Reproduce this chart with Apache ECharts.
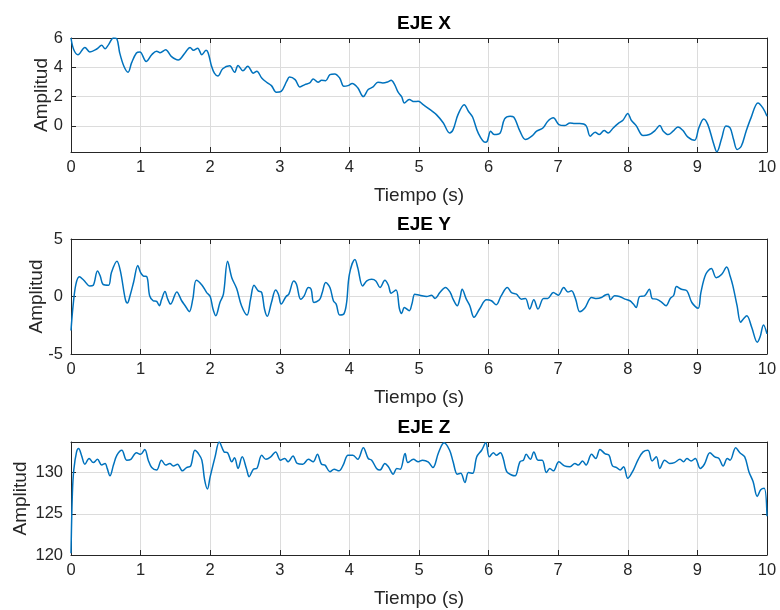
<!DOCTYPE html>
<html>
<head>
<meta charset="utf-8">
<script src="https://cdn.jsdelivr.net/npm/echarts@6/dist/echarts.min.js"></script>
<style>
html,body{margin:0;padding:0;background:#fff;}
#c{width:780px;height:610px;}
</style>
</head>
<body>
<div id="c"></div>
<script>
// ---- DATA ----
const titles = ['EJE X', 'EJE Y', 'EJE Z'];
const xTicks = [0,1,2,3,4,5,6,7,8,9,10];
const yTicksX = [0, 2, 4, 6];
const yTicksY = [-5, 0, 5];
const yTicksZ = [120, 125, 130];

const tX = [0,0.04,0.1,0.2,0.27,0.37,0.44,0.49,0.54,0.61,0.66,0.7,0.76,0.82,0.87,0.94,0.99,1.08,1.16,1.23,1.28,1.36,1.44,1.54,1.64,1.71,1.76,1.82,1.88,1.94,1.97,2.02,2.06,2.11,2.18,2.28,2.35,2.4,2.47,2.54,2.62,2.67,2.74,2.81,2.88,2.95,3.02,3.1,3.14,3.22,3.29,3.36,3.43,3.48,3.55,3.6,3.66,3.72,3.79,3.86,3.92,3.98,4.04,4.12,4.2,4.27,4.34,4.41,4.48,4.55,4.6,4.65,4.7,4.75,4.79,4.86,4.93,4.99,5.06,5.16,5.25,5.35,5.44,5.49,5.56,5.65,5.71,5.77,5.85,5.95,5.98,6.03,6.08,6.16,6.23,6.31,6.36,6.45,6.53,6.62,6.69,6.78,6.85,6.93,7.01,7.09,7.17,7.24,7.31,7.4,7.46,7.53,7.59,7.66,7.72,7.79,7.86,7.93,8.0,8.05,8.12,8.22,8.31,8.39,8.46,8.51,8.58,8.65,8.72,8.79,8.86,8.96,9.02,9.09,9.15,9.23,9.28,9.35,9.41,9.47,9.52,9.57,9.63,9.7,9.77,9.87,9.94,10];
const ampX = [6.0,5.2,4.86,5.36,5.05,5.25,5.5,5.27,5.55,6.0,5.93,4.98,4.07,3.66,4.3,4.98,5.05,4.4,4.86,5.1,5.0,5.2,4.75,4.5,5.0,5.36,5.16,5.3,4.86,5.16,5.0,4.07,3.6,3.4,3.9,4.1,3.66,4.13,3.77,4.07,3.6,3.73,3.27,2.98,2.75,2.3,2.36,3.05,3.34,3.16,2.66,2.82,2.93,3.2,2.98,3.11,3.09,3.5,3.55,3.27,2.7,2.75,2.9,2.6,2.0,2.48,2.66,2.98,2.93,3.0,3.11,2.82,2.3,2.0,1.57,1.8,1.66,1.68,1.45,1.11,0.77,0.2,-0.48,-0.25,0.77,1.45,1.0,0.61,-0.48,-1.11,-1.05,-0.36,-0.59,-0.52,0.48,0.66,0.61,-0.36,-0.93,-0.7,-0.36,-0.14,0.32,0.55,0.09,0.02,0.2,0.16,0.16,0.02,-0.7,-0.43,-0.59,-0.32,-0.48,-0.14,0.16,0.39,0.84,0.39,0.02,-0.66,-0.59,-0.32,0.02,-0.36,-0.59,-0.36,-0.07,-0.3,-0.75,-0.98,-0.14,0.48,0.09,-1.16,-1.77,-0.82,0.0,-0.14,-0.93,-1.61,-1.39,-0.36,0.55,1.57,1.23,0.66];

const tY = [0,0.03,0.07,0.12,0.18,0.27,0.32,0.38,0.42,0.46,0.54,0.58,0.66,0.71,0.78,0.81,0.85,0.9,0.96,1.0,1.04,1.09,1.13,1.18,1.23,1.27,1.3,1.35,1.39,1.43,1.52,1.59,1.64,1.7,1.75,1.8,1.88,1.95,2.0,2.04,2.08,2.14,2.19,2.25,2.31,2.38,2.45,2.53,2.58,2.63,2.69,2.74,2.78,2.82,2.88,2.94,2.98,3.02,3.09,3.13,3.2,3.24,3.3,3.35,3.41,3.45,3.49,3.57,3.61,3.66,3.72,3.77,3.81,3.86,3.92,3.96,4.0,4.08,4.12,4.19,4.25,4.32,4.38,4.44,4.51,4.56,4.6,4.67,4.72,4.75,4.79,4.86,4.9,4.94,5.01,5.11,5.18,5.23,5.3,5.38,5.45,5.49,5.55,5.59,5.62,5.68,5.73,5.79,5.87,5.97,6.04,6.11,6.18,6.27,6.33,6.4,6.47,6.53,6.59,6.65,6.71,6.79,6.85,6.93,7.0,7.08,7.14,7.19,7.25,7.31,7.38,7.48,7.55,7.62,7.67,7.72,7.75,7.81,7.88,7.96,8.03,8.08,8.12,8.17,8.24,8.31,8.35,8.41,8.48,8.55,8.61,8.66,8.7,8.77,8.85,8.92,9.01,9.05,9.12,9.2,9.27,9.35,9.42,9.47,9.51,9.57,9.62,9.66,9.71,9.78,9.86,9.9,9.95,10];
const ampY = [-2.96,-0.8,1.06,1.72,1.44,0.92,0.98,2.21,1.78,1.06,0.98,2.07,3.07,2.21,-0.23,-0.57,0.11,1.26,2.7,2.07,1.78,1.72,0.06,-0.37,-0.43,-0.8,-0.29,0.43,-0.23,-0.66,0.4,-0.37,-0.8,-1.32,-0.23,1.41,1.0,0.34,0.0,-1.09,-1.67,-0.52,0.2,3.07,1.64,0.69,-0.8,-1.61,-0.23,0.98,0.49,0.34,-1.09,-1.72,-0.52,0.57,0.2,-0.66,0.0,0.2,1.35,1.06,-0.23,0.06,0.78,0.63,-0.52,-0.29,0.34,1.21,0.78,-0.37,-0.66,-1.61,-1.52,-0.52,1.93,3.22,2.5,0.92,1.35,1.49,1.35,0.78,1.41,0.98,0.29,0.57,-1.09,-1.47,-0.95,-1.24,-0.6,0.2,0.11,0.0,0.11,-0.17,0.34,0.78,0.34,-0.23,-0.8,-0.09,0.63,-0.23,-0.8,-1.81,-1.09,-0.29,-0.37,-0.72,0.06,0.78,0.34,0.2,-0.23,-0.17,-1.09,-0.29,-1.09,-0.17,-0.17,0.34,0.11,0.78,0.4,0.49,-0.23,-1.32,-1.03,-0.09,-0.17,-0.09,0.11,0.2,-0.29,0.06,0.0,-0.23,-0.37,-0.66,-0.95,0.0,0.06,0.63,-0.17,-0.23,-0.46,-0.8,-0.17,0.11,0.86,0.63,0.49,-0.52,-1.03,0.34,1.93,2.44,1.64,1.93,2.56,1.78,0.92,-0.8,-2.24,-1.95,-1.67,-2.67,-3.97,-3.53,-2.47,-3.25];

const tZ = [0,0.02,0.04,0.08,0.11,0.15,0.2,0.26,0.32,0.38,0.44,0.49,0.52,0.56,0.61,0.66,0.73,0.8,0.86,0.94,1.0,1.06,1.11,1.16,1.23,1.3,1.36,1.42,1.47,1.53,1.6,1.66,1.72,1.78,1.83,1.88,1.92,1.96,2.0,2.07,2.13,2.2,2.25,2.31,2.35,2.4,2.46,2.52,2.56,2.62,2.67,2.74,2.8,2.87,2.94,3.01,3.07,3.12,3.19,3.25,3.33,3.41,3.48,3.54,3.6,3.65,3.72,3.78,3.85,3.91,3.98,4.05,4.12,4.2,4.27,4.32,4.39,4.44,4.51,4.56,4.63,4.68,4.73,4.8,4.84,4.92,4.99,5.05,5.13,5.2,5.28,5.36,5.44,5.49,5.55,5.6,5.66,5.71,5.77,5.83,5.9,5.96,6.01,6.07,6.11,6.17,6.21,6.26,6.33,6.38,6.45,6.5,6.54,6.6,6.65,6.71,6.77,6.83,6.88,6.93,7.01,7.09,7.17,7.24,7.29,7.35,7.4,7.48,7.54,7.6,7.67,7.73,7.78,7.84,7.89,7.94,8.0,8.08,8.15,8.22,8.29,8.35,8.41,8.46,8.53,8.6,8.67,8.75,8.8,8.85,8.91,8.97,9.04,9.1,9.18,9.25,9.31,9.37,9.43,9.47,9.55,9.61,9.68,9.74,9.8,9.86,9.91,9.96,10];
const ampZ = [120.2,127.5,130.3,132.5,132.9,132.1,131.0,131.7,131.2,131.6,130.9,131.1,130.5,129.6,130.9,132.1,132.7,131.5,131.6,132.4,132.2,132.8,131.5,130.6,130.3,131.5,130.9,131.1,130.8,131.0,130.2,130.6,130.8,132.7,132.3,131.5,129.1,128.0,129.5,131.9,133.7,132.5,132.4,131.3,131.8,130.5,131.9,130.5,129.5,130.4,130.5,132.1,131.6,131.9,132.5,131.5,131.7,131.3,132.0,131.1,131.0,131.6,131.3,132.2,131.0,130.9,130.1,130.4,130.2,130.9,132.1,132.1,131.6,133.0,131.7,131.5,130.5,130.3,131.1,130.7,129.8,130.5,130.4,132.3,131.2,131.6,131.3,131.5,131.3,130.6,132.4,133.6,132.7,131.3,129.8,129.9,128.8,130.0,129.9,131.9,132.7,133.6,131.9,132.4,132.1,132.4,131.7,130.1,129.7,129.6,131.3,131.5,132.2,131.6,132.5,131.5,131.5,130.0,130.5,130.2,131.3,130.8,130.7,131.1,130.9,131.4,130.9,132.2,131.7,132.8,132.3,132.1,130.8,130.6,130.3,130.7,129.3,130.3,131.6,132.5,132.7,131.4,131.9,130.5,131.5,131.1,131.2,131.6,131.3,131.7,131.4,131.7,130.5,131.0,132.4,131.9,131.7,130.8,131.7,131.5,133.0,132.4,131.9,130.1,128.9,127.1,127.9,128.1,124.7];

// ---- CHART ----
const FONT = '"Liberation Sans", Arial, Helvetica, sans-serif';
const DARK = '#262626';
const GRIDC = '#dcdcdc';
const LINEC = '#0072BD';

const grids = [
  {left: 71, right: 13, top: 38, height: 114},
  {left: 71, right: 13, top: 239, height: 115},
  {left: 71, right: 13, top: 442, height: 113}
];
const yRanges = [[-1.78, 6], [-5, 5], [120, 133.7]];
const yTicks = [yTicksX, yTicksY, yTicksZ];
const yNameGaps = [20, 25, 41];
const titleTops = [9, 210, 413];
const series = [[tX, ampX], [tY, ampY], [tZ, ampZ]];

const option = {
  animation: false,
  backgroundColor: '#fff',
  title: titles.map((t, i) => ({
    text: t, left: 419, top: titleTops[i], textAlign: 'center',
    textStyle: {fontFamily: FONT, fontSize: 19, fontWeight: 'bold', color: '#000'}
  })),
  grid: grids.map(g => Object.assign({show: false, containLabel: false, outerBoundsMode: 'none'}, g)),
  xAxis: [],
  yAxis: [],
  series: []
};

grids.forEach((g, i) => {
  // bottom x axis
  option.xAxis.push({
    type: 'value', gridIndex: i, min: 0, max: 10, interval: 1, position: 'bottom',
    name: 'Tiempo (s)', nameLocation: 'middle', nameGap: 34, nameMoveOverlap: false,
    nameTextStyle: {fontFamily: FONT, fontSize: 19, color: DARK},
    axisLine: {show: true, onZero: false, lineStyle: {color: DARK, width: 1}},
    axisTick: {show: true, inside: true, length: 5, lineStyle: {color: DARK}},
    axisLabel: {show: true, margin: 7, fontFamily: FONT, fontSize: 16.5, color: DARK,
      customValues: xTicks},
    splitLine: {show: true, lineStyle: {color: GRIDC, width: 1}}
  });
  // top x axis (box + ticks)
  option.xAxis.push({
    type: 'value', gridIndex: i, min: 0, max: 10, interval: 1, position: 'top',
    axisLine: {show: true, onZero: false, lineStyle: {color: DARK, width: 1}},
    axisTick: {show: true, inside: true, length: 5, lineStyle: {color: DARK}},
    axisLabel: {show: false},
    splitLine: {show: false}
  });
  // left y axis
  option.yAxis.push({
    type: 'value', gridIndex: i, min: yRanges[i][0], max: yRanges[i][1], position: 'left',
    name: 'Amplitud', nameLocation: 'middle', nameGap: yNameGaps[i], nameMoveOverlap: false,
    nameTextStyle: {fontFamily: FONT, fontSize: 19, color: DARK},
    axisLine: {show: true, onZero: false, lineStyle: {color: DARK, width: 1}},
    axisTick: {show: true, inside: true, length: 5, lineStyle: {color: DARK}, customValues: yTicks[i]},
    axisLabel: {show: true, margin: 8, fontFamily: FONT, fontSize: 16.5, color: DARK, customValues: yTicks[i]},
    splitLine: {show: true, lineStyle: {color: GRIDC, width: 1}}
  });
  // right y axis
  option.yAxis.push({
    type: 'value', gridIndex: i, min: yRanges[i][0], max: yRanges[i][1], position: 'right',
    axisLine: {show: true, onZero: false, lineStyle: {color: DARK, width: 1}},
    axisTick: {show: true, inside: true, length: 5, lineStyle: {color: DARK}, customValues: yTicks[i]},
    axisLabel: {show: false, customValues: yTicks[i]},
    splitLine: {show: false}
  });
  const [ts, vs] = series[i];
  option.series.push({
    type: 'line', xAxisIndex: 2 * i, yAxisIndex: 2 * i,
    data: ts.map((t, k) => [t, vs[k]]),
    showSymbol: false, symbol: 'none', smooth: 0.35, clip: true,
    lineStyle: {color: LINEC, width: 1.5},
    z: 5
  });
});

const chart = echarts.init(document.getElementById('c'), null, {renderer: 'canvas'});
chart.setOption(option);
</script>
</body>
</html>
